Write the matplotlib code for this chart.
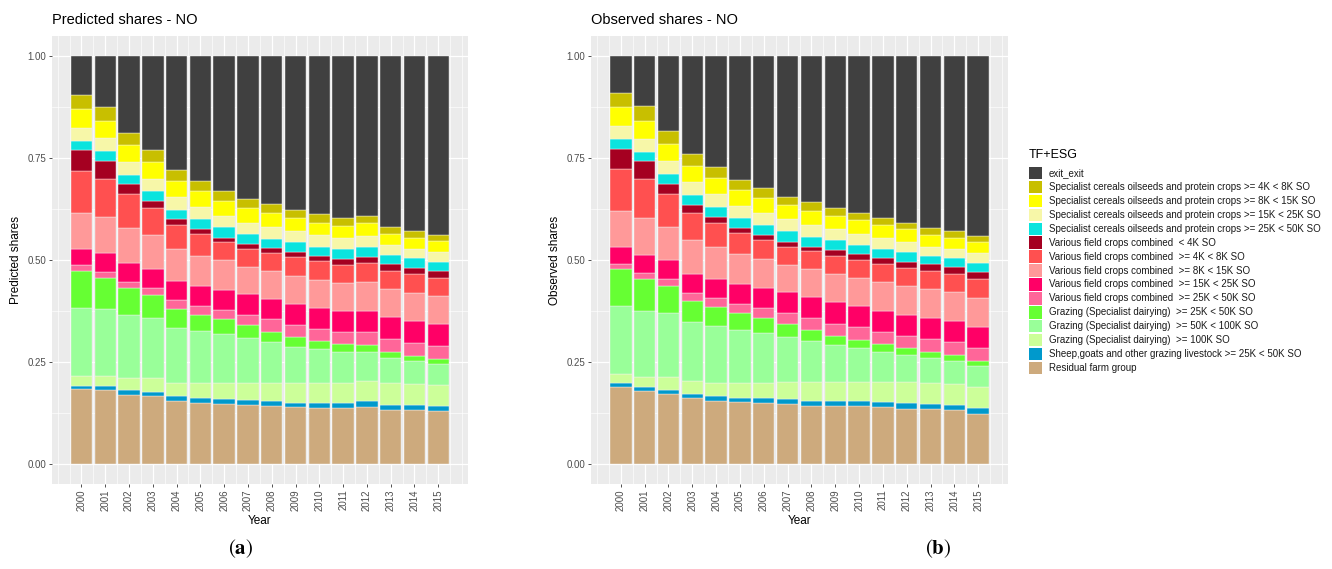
import numpy as np
import matplotlib
matplotlib.use("Agg")
from matplotlib import pyplot as plt
from matplotlib.patches import Rectangle

plt.rcParams['font.family'] = ['Liberation Sans', 'DejaVu Sans']
plt.rcParams['mathtext.fontset'] = 'stix'

YEARS = list(range(2000, 2016))

# stacking order, bottom to top
CATEGORIES = [
    "Residual farm group",
    "Sheep,goats and other grazing livestock >= 25K < 50K SO",
    "Grazing (Specialist dairying)  >= 100K SO",
    "Grazing (Specialist dairying)  >= 50K < 100K SO",
    "Grazing (Specialist dairying)  >= 25K < 50K SO",
    "Various field crops combined  >= 25K < 50K SO",
    "Various field crops combined  >= 15K < 25K SO",
    "Various field crops combined  >= 8K < 15K SO",
    "Various field crops combined  >= 4K < 8K SO",
    "Various field crops combined  < 4K SO",
    "Specialist cereals oilseeds and protein crops >= 25K < 50K SO",
    "Specialist cereals oilseeds and protein crops >= 15K < 25K SO",
    "Specialist cereals oilseeds and protein crops >= 8K < 15K SO",
    "Specialist cereals oilseeds and protein crops >= 4K < 8K SO",
    "exit_exit",
]
COLORS = [
    "#CDAA7D", "#0099CC", "#CCFF99", "#99FF99", "#66FF33",
    "#FF6699", "#FF0066", "#FF9999", "#FF5050", "#A50021",
    "#0AE4DE", "#F7F7A8", "#FFFF00", "#C8BF00", "#404040",
]

# cumulative upper edges of the first 14 segments per year (exit_exit fills to 1)
pred_cum = [
    [.183, .191, .216, .382, .474, .487, .528, .616, .719, .769, .793, .825, .870, .904],
    [.181, .191, .216, .380, .455, .470, .516, .605, .700, .744, .767, .799, .842, .876],
    [.169, .181, .210, .365, .431, .446, .492, .578, .661, .686, .708, .740, .782, .813],
    [.167, .177, .210, .357, .413, .432, .477, .561, .627, .644, .669, .700, .740, .770],
    [.154, .166, .199, .334, .380, .401, .448, .526, .585, .600, .623, .654, .694, .720],
    [.150, .160, .197, .325, .365, .386, .435, .510, .563, .576, .601, .631, .670, .695],
    [.146, .158, .198, .319, .355, .378, .427, .499, .543, .555, .580, .608, .646, .670],
    [.144, .157, .198, .309, .340, .364, .417, .484, .528, .539, .564, .591, .628, .650],
    [.141, .153, .197, .298, .324, .354, .405, .472, .517, .529, .552, .581, .616, .637],
    [.139, .150, .198, .287, .310, .340, .392, .461, .507, .519, .543, .572, .604, .623],
    [.137, .150, .198, .281, .302, .330, .381, .451, .497, .510, .532, .561, .592, .612],
    [.136, .150, .199, .273, .294, .322, .374, .443, .487, .503, .526, .553, .584, .602],
    [.140, .153, .202, .273, .291, .322, .376, .445, .492, .508, .532, .559, .591, .608],
    [.132, .144, .198, .259, .273, .307, .359, .428, .473, .490, .513, .536, .565, .582],
    [.131, .143, .196, .252, .264, .297, .350, .419, .465, .481, .504, .526, .555, .571],
    [.129, .142, .193, .245, .257, .289, .342, .411, .457, .473, .496, .519, .546, .561],
]
obs_cum = [
    [.188, .197, .221, .387, .478, .491, .531, .621, .723, .772, .797, .829, .875, .910],
    [.178, .188, .212, .376, .453, .469, .513, .604, .699, .742, .765, .797, .842, .877],
    [.171, .182, .212, .371, .437, .453, .499, .582, .661, .687, .711, .743, .784, .817],
    [.161, .170, .202, .347, .400, .420, .466, .549, .616, .634, .659, .691, .732, .761],
    [.155, .165, .199, .337, .384, .406, .453, .532, .591, .605, .630, .661, .702, .729],
    [.151, .161, .197, .327, .371, .393, .442, .515, .566, .578, .602, .633, .673, .697],
    [.148, .160, .199, .321, .357, .381, .431, .502, .550, .562, .586, .615, .652, .676],
    [.146, .159, .201, .312, .343, .369, .421, .488, .533, .545, .570, .600, .634, .655],
    [.142, .155, .201, .302, .327, .357, .408, .477, .522, .533, .557, .587, .621, .642],
    [.142, .155, .201, .291, .313, .344, .397, .466, .509, .524, .548, .575, .608, .627],
    [.141, .154, .201, .284, .304, .335, .386, .456, .500, .514, .537, .564, .597, .615],
    [.138, .152, .201, .274, .294, .324, .375, .445, .490, .504, .527, .554, .585, .602],
    [.135, .150, .200, .266, .284, .314, .366, .435, .481, .496, .519, .545, .575, .592],
    [.133, .147, .199, .259, .275, .307, .358, .429, .472, .489, .511, .533, .562, .579],
    [.131, .145, .196, .252, .266, .298, .351, .421, .466, .482, .504, .527, .555, .571],
    [.123, .136, .189, .240, .253, .283, .336, .406, .453, .470, .492, .516, .544, .558],
]

W, H = 1332, 569


def stacked_panel(ax, cum, title, ylabel):
    cum = np.asarray(cum)
    edges = np.hstack([np.zeros((len(YEARS), 1)), cum, np.ones((len(YEARS), 1))])
    heights = np.diff(edges, axis=1)
    x = np.array(YEARS)

    ax.set_facecolor("#EBEBEB")
    for v in [1999, 2016] + [y + 0.5 for y in range(1999, 2016)]:
        ax.axvline(v, color="white", lw=0.45, zorder=0)
    for v in [0.125, 0.375, 0.625, 0.875]:
        ax.axhline(v, color="white", lw=0.45, zorder=0)
    for v in YEARS:
        ax.axvline(v, color="white", lw=0.9, zorder=0)
    for v in [0, 0.25, 0.5, 0.75, 1.0]:
        ax.axhline(v, color="white", lw=0.9, zorder=0)

    for i, col in enumerate(COLORS):
        ax.bar(x, heights[:, i], bottom=edges[:, i], width=0.9, color=col,
               edgecolor="#F4F4F4", linewidth=0.3, zorder=2)

    ax.set_xlim(1998.75, 2016.25)
    ax.set_ylim(-0.05, 1.05)
    ax.set_xticks(YEARS)
    ax.set_xticklabels([str(y) for y in YEARS], rotation=90)
    ax.set_yticks([0, 0.25, 0.5, 0.75, 1.0])
    ax.set_yticklabels(["0.00", "0.25", "0.50", "0.75", "1.00"])
    ax.tick_params(length=2.5, width=0.6, color="#333333", labelcolor="#4D4D4D",
                   labelsize=7, pad=1.5)
    for s in ax.spines.values():
        s.set_visible(False)
    ax.set_xlabel("Year", fontsize=8.5, labelpad=2.5)
    ax.set_ylabel(ylabel, fontsize=8.5, labelpad=4)
    ax.set_title(title, loc="left", fontsize=10.5, pad=9)


fig = plt.figure(figsize=(W / 100, H / 100), dpi=100)
fig.patch.set_facecolor("white")

ax1 = fig.add_axes([51.7 / W, 1 - 484 / H, (468 - 51.7) / W, 448 / H])
ax2 = fig.add_axes([591 / W, 1 - 484 / H, (1008 - 591) / W, 448 / H])
stacked_panel(ax1, pred_cum, "Predicted shares - NO", "Predicted shares")
stacked_panel(ax2, obs_cum, "Observed shares - NO", "Observed shares")

# legend (ggplot style, first level on top)
fig.text(1029 / W, 1 - 155 / H, "TF+ESG", fontsize=9, va="center", ha="left")
for k, i in enumerate(range(len(CATEGORIES) - 1, -1, -1)):
    yc = 173 + k * 13.93
    fig.add_artist(Rectangle((1029 / W, 1 - (yc + 6.2) / H), 13 / W, 12.4 / H,
                             transform=fig.transFigure, facecolor=COLORS[i],
                             edgecolor="none"))
    fig.text(1049 / W, 1 - yc / H, CATEGORIES[i], fontsize=7, va="center",
             ha="left", color="#1A1A1A")

fig.text(241 / W, 1 - 549 / H, r"$(\mathbf{a})$", fontsize=15, ha="center", va="center")
fig.text(938 / W, 1 - 549 / H, r"$(\mathbf{b})$", fontsize=15, ha="center", va="center")

fig.savefig("out.png", dpi=100)
